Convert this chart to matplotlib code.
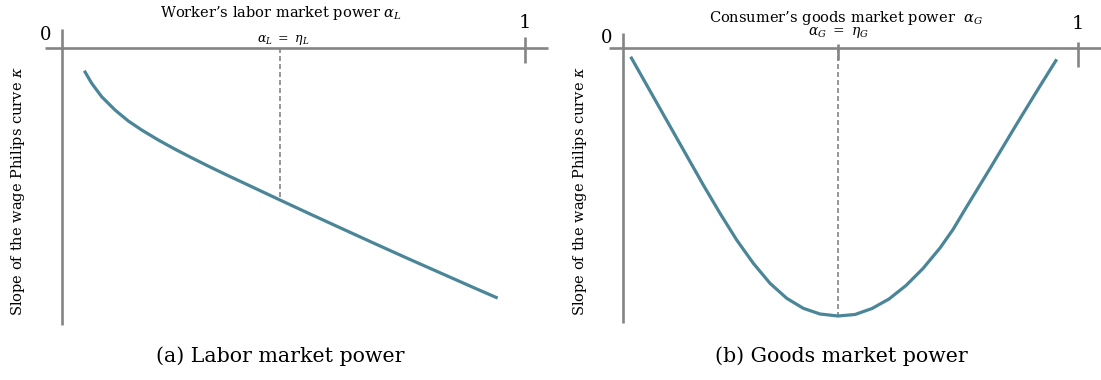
import matplotlib.pyplot as plt

plt.rcParams['font.family'] = ['DejaVu Serif']
plt.rcParams['mathtext.fontset'] = 'dejavuserif'

# panel (a): labor market power, kappa (axis at 0, going down)
alpha_L = [0.0482, 0.0641, 0.0857, 0.1145, 0.1432, 0.1721, 0.2080, 0.2441, 0.2801,
           0.3160, 0.3521, 0.3881, 0.4240, 0.4708, 0.5320, 0.6041, 0.6760, 0.7479,
           0.8201, 0.8920, 0.9410]
kappa_L = [-0.227, -0.353, -0.487, -0.620, -0.730, -0.820, -0.920, -1.012, -1.098,
           -1.181, -1.262, -1.340, -1.418, -1.520, -1.652, -1.805, -1.957, -2.107,
           -2.255, -2.402, -2.501]
eta_L = 0.4708

# panel (b): goods market power
alpha_G = [0.0169, 0.0666, 0.1033, 0.1400, 0.1765, 0.2132, 0.2499, 0.2864, 0.3231,
           0.3598, 0.3963, 0.4330, 0.4725, 0.5099, 0.5473, 0.5846, 0.6220, 0.6593,
           0.6967, 0.7253, 0.7516, 0.8066, 0.8653, 0.9165, 0.9532]
kappa_G = [-0.087, -0.487, -0.782, -1.077, -1.370, -1.653, -1.920, -2.153, -2.353,
           -2.503, -2.603, -2.660, -2.680, -2.665, -2.605, -2.510, -2.375, -2.205,
           -2.000, -1.815, -1.615, -1.205, -0.760, -0.380, -0.113]
eta_G = 0.4725

axis_col = '#858585'
curve_col = '#4a8598'
ylab = r'Slope of the wage Philips curve $\kappa$'

fig = plt.figure(figsize=(11.01, 3.8), dpi=100)
W, H = 1101, 380


def px_axes(x0, x1, y0, y1):
    return fig.add_axes([x0 / W, 1 - y1 / H, (x1 - x0) / W, (y1 - y0) / H])


def setup(ax, xlim):
    ax.set_xlim(*xlim)
    ax.set_ylim(-2.82, 0.28)
    ax.axis('off')


def line(ax, xs, ys, **kw):
    kw.setdefault('color', axis_col)
    kw.setdefault('lw', 1.9)
    kw.setdefault('solid_capstyle', 'butt')
    ax.plot(xs, ys, clip_on=False, **kw)


# left panel
ax1 = px_axes(40, 550, 20, 330)
setup(ax1, ((40 - 62) / 463, (550 - 62) / 463))
line(ax1, [-0.037, 1.05], [0, 0])
line(ax1, [0, 0], [0.19, -2.77])
line(ax1, [1, 1], [0.11, -0.15])
line(ax1, [eta_L, eta_L], [0, kappa_L[alpha_L.index(eta_L)]], lw=1.2, ls=(0, (3, 1.8)))
ax1.plot(alpha_L, kappa_L, color=curve_col, lw=2.3, solid_capstyle='butt')
ax1.text(-0.036, 0.13, '0', fontsize=13, ha='center', va='center')
ax1.text(1.0, 0.25, '1', fontsize=14, ha='center', va='center')
ax1.text(eta_L + 0.006, 0.075, r'$\alpha_L\ =\ \eta_L$', fontsize=9, ha='center', va='center')
ax1.text(0.474, 0.35, r"Worker’s labor market power $\alpha_L$", fontsize=10.5,
         ha='center', va='center')
ax1.text(-0.096, -1.43, ylab, fontsize=10.5, rotation=90, ha='center', va='center')
fig.text(280 / W, 1 - 356 / H, '(a) Labor market power', fontsize=14.8,
         ha='center', va='center')

# right panel
ax2 = px_axes(600, 1101, 20, 330)
setup(ax2, ((600 - 623) / 455, (1101 - 623) / 455))
line(ax2, [-0.031, 1.06], [0, 0])
line(ax2, [0, 0], [0.15, -2.75])
line(ax2, [1, 1], [0.06, -0.19])
line(ax2, [eta_G, eta_G], [0.04, -0.12])
line(ax2, [eta_G, eta_G], [0, min(kappa_G)], lw=1.2, ls=(0, (3, 1.8)))
ax2.plot(alpha_G, kappa_G, color=curve_col, lw=2.3, solid_capstyle='butt')
ax2.text(-0.035, 0.095, '0', fontsize=13, ha='center', va='center')
ax2.text(1.0, 0.235, '1', fontsize=14, ha='center', va='center')
ax2.text(eta_G, 0.15, r'$\alpha_G\ =\ \eta_G$', fontsize=10, ha='center', va='center')
ax2.text(0.490, 0.30, r"Consumer’s goods market power  $\alpha_G$", fontsize=10.5,
         ha='center', va='center')
ax2.text(-0.0945, -1.43, ylab, fontsize=10.5, rotation=90, ha='center', va='center')
fig.text(841 / W, 1 - 356 / H, '(b) Goods market power', fontsize=14.8,
         ha='center', va='center')

fig.savefig('out.png', dpi=100)
